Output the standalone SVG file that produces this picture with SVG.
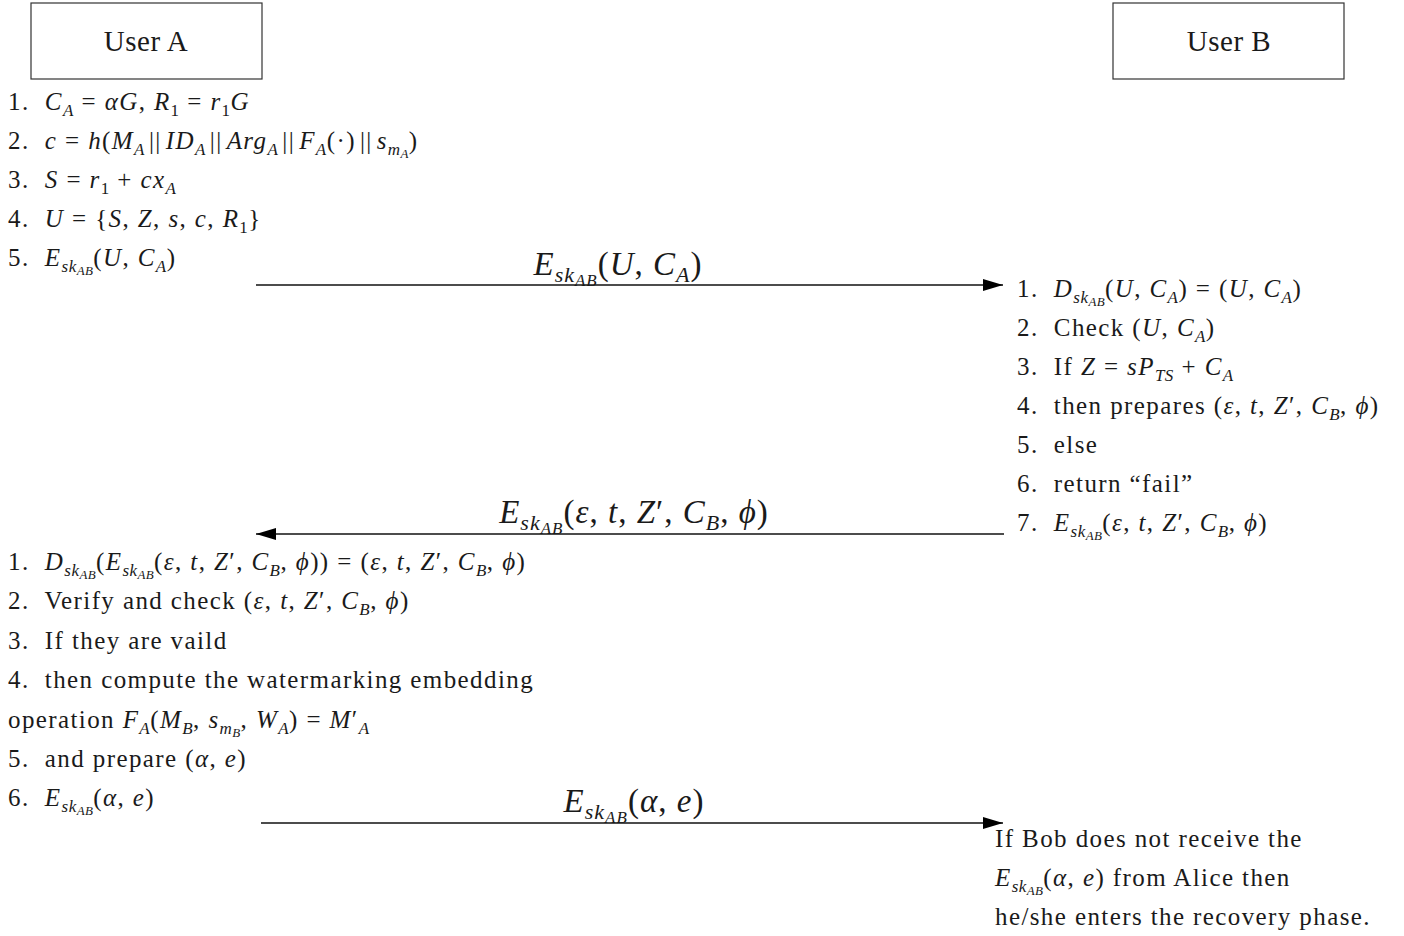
<svg xmlns="http://www.w3.org/2000/svg" width="1404" height="936" viewBox="0 0 1404 936">
<style>
.t{font-family:"Liberation Serif",serif;font-size:25px;fill:#1a1a1a;letter-spacing:1.4px;white-space:pre}
.b{font-size:33px;letter-spacing:1px}
.h{font-size:29px;letter-spacing:0.5px}
.i{font-style:italic}
.s{font-size:17px;letter-spacing:0.5px}
.ss{font-size:13px;letter-spacing:0.3px}
.bs{font-size:22px}
.bss{font-size:17px}
.box{fill:#fff;stroke:#333;stroke-width:1.2}
.ln{stroke:#111;stroke-width:1.5;fill:none}
</style>
<defs>
<marker id="ah" viewBox="0 0 20 12" refX="20" refY="6" markerWidth="20" markerHeight="12" markerUnits="userSpaceOnUse" orient="auto">
<path d="M0,0 L20,6 L0,12 Z" fill="#000"/>
</marker>
</defs>
<rect width="1404" height="936" fill="#fff"/>
<g id="userA">
<rect class="box" x="31" y="3" width="231" height="76"/>
<text class="t h" x="146" y="51" text-anchor="middle">User A</text>
</g>
<g id="userB">
<rect class="box" x="1113" y="3" width="231" height="76"/>
<text class="t h" x="1229" y="51" text-anchor="middle">User B</text>
</g>
<g id="stepsA1">
<text class="t" x="8" y="110">1.  <tspan class="i">C</tspan><tspan class="i s" dy="6">A</tspan><tspan dy="-6"> = </tspan><tspan class="i">αG</tspan>, <tspan class="i">R</tspan><tspan class="s" dy="6">1</tspan><tspan dy="-6"> = </tspan><tspan class="i">r</tspan><tspan class="s" dy="6">1</tspan><tspan class="i" dy="-6">G</tspan></text>
<text class="t" x="8" y="149">2.  <tspan class="i">c</tspan> = <tspan class="i">h</tspan>(<tspan class="i">M</tspan><tspan class="i s" dy="6">A</tspan><tspan dy="-6" dx="4">||</tspan><tspan class="i" dx="4">ID</tspan><tspan class="i s" dy="6">A</tspan><tspan dy="-6" dx="4">||</tspan><tspan class="i" dx="4">Arg</tspan><tspan class="i s" dy="6">A</tspan><tspan dy="-6" dx="4">||</tspan><tspan class="i" dx="4">F</tspan><tspan class="i s" dy="6">A</tspan><tspan dy="-6">(·)</tspan><tspan dx="4">||</tspan><tspan class="i" dx="4">s</tspan><tspan class="i s" dy="6">m</tspan><tspan class="i ss" dy="3">A</tspan><tspan dy="-9">)</tspan></text>
<text class="t" x="8" y="188">3.  <tspan class="i">S</tspan> = <tspan class="i">r</tspan><tspan class="s" dy="6">1</tspan><tspan dy="-6"> + </tspan><tspan class="i">cx</tspan><tspan class="i s" dy="6">A</tspan></text>
<text class="t" x="8" y="227">4.  <tspan class="i">U</tspan> = {<tspan class="i">S</tspan>, <tspan class="i">Z</tspan>, <tspan class="i">s</tspan>, <tspan class="i">c</tspan>, <tspan class="i">R</tspan><tspan class="s" dy="6">1</tspan><tspan dy="-6">}</tspan></text>
<text class="t" x="8" y="266">5.  <tspan class="i">E</tspan><tspan class="i s" dy="6">sk</tspan><tspan class="i ss" dy="3">AB</tspan><tspan dy="-9">(</tspan><tspan class="i">U</tspan>, <tspan class="i">C</tspan><tspan class="i s" dy="6">A</tspan><tspan dy="-6">)</tspan></text>
</g>
<g id="stepsB">
<text class="t" x="1017" y="297">1.  <tspan class="i">D</tspan><tspan class="i s" dy="6">sk</tspan><tspan class="i ss" dy="3">AB</tspan><tspan dy="-9">(</tspan><tspan class="i">U</tspan>, <tspan class="i">C</tspan><tspan class="i s" dy="6">A</tspan><tspan dy="-6">) = (</tspan><tspan class="i">U</tspan>, <tspan class="i">C</tspan><tspan class="i s" dy="6">A</tspan><tspan dy="-6">)</tspan></text>
<text class="t" x="1017" y="336">2.  Check (<tspan class="i">U</tspan>, <tspan class="i">C</tspan><tspan class="i s" dy="6">A</tspan><tspan dy="-6">)</tspan></text>
<text class="t" x="1017" y="375">3.  If <tspan class="i">Z</tspan> = <tspan class="i">sP</tspan><tspan class="i s" dy="6">TS</tspan><tspan dy="-6"> + </tspan><tspan class="i">C</tspan><tspan class="i s" dy="6">A</tspan></text>
<text class="t" x="1017" y="414">4.  then prepares (<tspan class="i">ε</tspan>, <tspan class="i">t</tspan>, <tspan class="i">Z</tspan>′, <tspan class="i">C</tspan><tspan class="i s" dy="6">B</tspan><tspan dy="-6">, </tspan><tspan class="i">ϕ</tspan>)</text>
<text class="t" x="1017" y="453">5.  else</text>
<text class="t" x="1017" y="492">6.  return “fail”</text>
<text class="t" x="1017" y="531">7.  <tspan class="i">E</tspan><tspan class="i s" dy="6">sk</tspan><tspan class="i ss" dy="3">AB</tspan><tspan dy="-9">(</tspan><tspan class="i">ε</tspan>, <tspan class="i">t</tspan>, <tspan class="i">Z</tspan>′, <tspan class="i">C</tspan><tspan class="i s" dy="6">B</tspan><tspan dy="-6">, </tspan><tspan class="i">ϕ</tspan>)</text>
</g>
<g id="stepsA2">
<text class="t" x="8" y="570">1.  <tspan class="i">D</tspan><tspan class="i s" dy="6">sk</tspan><tspan class="i ss" dy="3">AB</tspan><tspan dy="-9">(</tspan><tspan class="i">E</tspan><tspan class="i s" dy="6">sk</tspan><tspan class="i ss" dy="3">AB</tspan><tspan dy="-9">(</tspan><tspan class="i">ε</tspan>, <tspan class="i">t</tspan>, <tspan class="i">Z</tspan>′, <tspan class="i">C</tspan><tspan class="i s" dy="6">B</tspan><tspan dy="-6">, </tspan><tspan class="i">ϕ</tspan>)) = (<tspan class="i">ε</tspan>, <tspan class="i">t</tspan>, <tspan class="i">Z</tspan>′, <tspan class="i">C</tspan><tspan class="i s" dy="6">B</tspan><tspan dy="-6">, </tspan><tspan class="i">ϕ</tspan>)</text>
<text class="t" x="8" y="609">2.  Verify and check (<tspan class="i">ε</tspan>, <tspan class="i">t</tspan>, <tspan class="i">Z</tspan>′, <tspan class="i">C</tspan><tspan class="i s" dy="6">B</tspan><tspan dy="-6">, </tspan><tspan class="i">ϕ</tspan>)</text>
<text class="t" x="8" y="649">3.  If they are vaild</text>
<text class="t" x="8" y="688">4.  then compute the watermarking embedding</text>
<text class="t" x="8" y="728">operation <tspan class="i">F</tspan><tspan class="i s" dy="6">A</tspan><tspan dy="-6">(</tspan><tspan class="i">M</tspan><tspan class="i s" dy="6">B</tspan><tspan dy="-6">, </tspan><tspan class="i">s</tspan><tspan class="i s" dy="6">m</tspan><tspan class="i ss" dy="3">B</tspan><tspan dy="-9">, </tspan><tspan class="i">W</tspan><tspan class="i s" dy="6">A</tspan><tspan dy="-6">) = </tspan><tspan class="i">M</tspan>′<tspan class="i s" dy="6">A</tspan></text>
<text class="t" x="8" y="767">5.  and prepare (<tspan class="i">α</tspan>, <tspan class="i">e</tspan>)</text>
<text class="t" x="8" y="806">6.  <tspan class="i">E</tspan><tspan class="i s" dy="6">sk</tspan><tspan class="i ss" dy="3">AB</tspan><tspan dy="-9">(</tspan><tspan class="i">α</tspan>, <tspan class="i">e</tspan>)</text>
</g>
<g id="noteB">
<text class="t" x="995" y="847">If Bob does not receive the</text>
<text class="t" x="995" y="886"><tspan class="i">E</tspan><tspan class="i s" dy="6">sk</tspan><tspan class="i ss" dy="3">AB</tspan><tspan dy="-9">(</tspan><tspan class="i">α</tspan>, <tspan class="i">e</tspan>) from Alice then</text>
<text class="t" x="995" y="925">he/she enters the recovery phase.</text>
</g>
<g id="connectors">
<line class="ln" x1="256" y1="285" x2="1003" y2="285" marker-end="url(#ah)"/>
<text class="t b" x="618" y="275" text-anchor="middle"><tspan class="i">E</tspan><tspan class="i bs" dy="7">sk</tspan><tspan class="i bss" dy="4">AB</tspan><tspan dy="-11">(</tspan><tspan class="i">U</tspan>, <tspan class="i">C</tspan><tspan class="i bs" dy="7">A</tspan><tspan dy="-7">)</tspan></text>
<line class="ln" x1="1004" y1="534" x2="256" y2="534" marker-end="url(#ah)"/>
<text class="t b" x="634" y="523" text-anchor="middle"><tspan class="i">E</tspan><tspan class="i bs" dy="7">sk</tspan><tspan class="i bss" dy="4">AB</tspan><tspan dy="-11">(</tspan><tspan class="i">ε</tspan>, <tspan class="i">t</tspan>, <tspan class="i">Z</tspan>′, <tspan class="i">C</tspan><tspan class="i bs" dy="7">B</tspan><tspan dy="-7">, </tspan><tspan class="i">ϕ</tspan>)</text>
<line class="ln" x1="261" y1="823" x2="1003" y2="823" marker-end="url(#ah)"/>
<text class="t b" x="634" y="812" text-anchor="middle"><tspan class="i">E</tspan><tspan class="i bs" dy="7">sk</tspan><tspan class="i bss" dy="4">AB</tspan><tspan dy="-11">(</tspan><tspan class="i">α</tspan>, <tspan class="i">e</tspan>)</text>
</g>
</svg>
